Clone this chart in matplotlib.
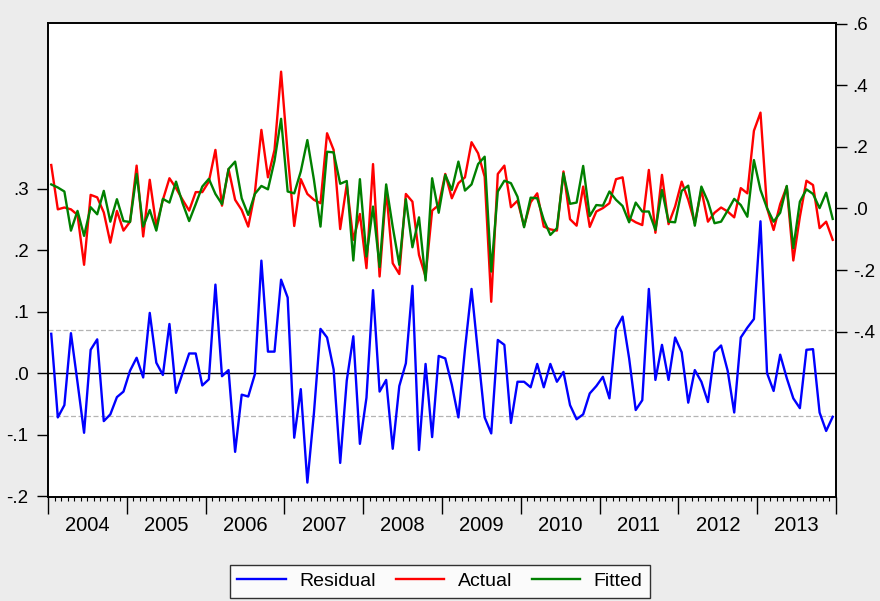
import numpy as np
import matplotlib
matplotlib.use("Agg")
import matplotlib.pyplot as plt
from matplotlib.lines import Line2D

plt.rcParams['font.family'] = ['Liberation Sans', 'DejaVu Sans']

# monthly observations, Jan 2004 - Dec 2013
years = ["2004", "2005", "2006", "2007", "2008", "2009", "2010", "2011", "2012", "2013"]

residual = [
    0.064, -0.072, -0.052, 0.065, -0.015, -0.097, 0.038, 0.055, -0.078, -0.067, -0.039, -0.030,
    0.004, 0.025, -0.007, 0.098, 0.017, -0.003, 0.080, -0.032, 0.000, 0.032, 0.032, -0.020,
    -0.010, 0.144, -0.005, 0.005, -0.128, -0.035, -0.038, -0.002, 0.183, 0.035, 0.035, 0.152,
    0.123, -0.105, -0.026, -0.178, -0.065, 0.072, 0.058, 0.006, -0.146, -0.012, 0.060, -0.115,
    -0.040, 0.135, -0.030, -0.011, -0.123, -0.021, 0.016, 0.142, -0.125, 0.015, -0.104, 0.028,
    0.024, -0.019, -0.072, 0.039, 0.137, 0.031, -0.072, -0.098, 0.054, 0.046, -0.081, -0.014,
    -0.014, -0.023, 0.015, -0.023, 0.015, -0.014, 0.002, -0.052, -0.075, -0.067, -0.033, -0.021,
    -0.006, -0.041, 0.072, 0.092, 0.024, -0.060, -0.044, 0.137, -0.011, 0.046, -0.011, 0.058,
    0.034, -0.048, 0.005, -0.014, -0.047, 0.034, 0.045, 0.004, -0.064, 0.058, 0.074, 0.088,
    0.247, 0.000, -0.029, 0.030, -0.008, -0.041, -0.057, 0.038, 0.039, -0.064, -0.094, -0.071,
]

actual = [
    0.141, -0.003, 0.003, -0.003, -0.021, -0.183, 0.044, 0.036, -0.013, -0.111, -0.008, -0.072,
    -0.043, 0.139, -0.091, 0.093, -0.057, 0.028, 0.098, 0.066, 0.028, -0.007, 0.053, 0.053,
    0.087, 0.190, 0.009, 0.128, 0.028, -0.005, -0.059, 0.049, 0.255, 0.101, 0.190, 0.444,
    0.178, -0.057, 0.095, 0.047, 0.028, 0.017, 0.244, 0.190, -0.067, 0.078, -0.102, -0.018,
    -0.194, 0.144, -0.221, 0.060, -0.178, -0.213, 0.047, 0.022, -0.151, -0.221, -0.007, 0.011,
    0.112, 0.033, 0.082, 0.101, 0.215, 0.179, 0.103, -0.303, 0.112, 0.139, 0.004, 0.025,
    -0.057, 0.020, 0.049, -0.059, -0.068, -0.072, 0.120, -0.035, -0.056, 0.071, -0.060, -0.010,
    0.001, 0.017, 0.095, 0.101, -0.032, -0.045, -0.054, 0.125, -0.079, 0.109, -0.051, 0.006,
    0.087, 0.028, -0.048, 0.060, -0.043, -0.014, 0.003, -0.010, -0.029, 0.066, 0.049, 0.252,
    0.311, 0.001, -0.070, 0.014, 0.071, -0.169, -0.027, 0.090, 0.076, -0.064, -0.043, -0.102,
]

fitted = [
    0.078, 0.068, 0.055, -0.072, -0.008, -0.089, 0.004, -0.019, 0.057, -0.043, 0.030, -0.041,
    -0.044, 0.112, -0.059, -0.005, -0.072, 0.031, 0.019, 0.087, 0.017, -0.041, 0.014, 0.071,
    0.096, 0.047, 0.014, 0.128, 0.152, 0.033, -0.021, 0.047, 0.073, 0.062, 0.155, 0.291,
    0.055, 0.049, 0.120, 0.222, 0.093, -0.059, 0.184, 0.182, 0.080, 0.089, -0.169, 0.095,
    -0.156, 0.006, -0.190, 0.078, -0.060, -0.183, 0.030, -0.126, -0.029, -0.234, 0.098, -0.014,
    0.109, 0.060, 0.152, 0.058, 0.078, 0.144, 0.168, -0.205, 0.055, 0.090, 0.082, 0.038,
    -0.061, 0.035, 0.033, -0.037, -0.086, -0.064, 0.114, 0.015, 0.019, 0.138, -0.025, 0.011,
    0.009, 0.055, 0.028, 0.008, -0.045, 0.019, -0.010, -0.010, -0.070, 0.060, -0.043, -0.045,
    0.057, 0.074, -0.056, 0.071, 0.022, -0.048, -0.043, -0.007, 0.031, 0.011, -0.027, 0.157,
    0.060, 0.001, -0.043, -0.014, 0.073, -0.129, 0.022, 0.062, 0.047, 0.001, 0.051, -0.034,
]

resid_se = 0.0705

left_ticks = [-0.2, -0.1, 0.0, 0.1, 0.2, 0.3]
left_labels = ["-.2", "-.1", ".0", ".1", ".2", ".3"]
right_ticks = [-0.4, -0.2, 0.0, 0.2, 0.4, 0.6]
right_labels = ["-.4", "-.2", ".0", ".2", ".4", ".6"]

bg = "#ececec"
fig = plt.figure(figsize=(8.8, 6.01), dpi=100, facecolor=bg)
ax = fig.add_axes([0.0545, 0.1735, 0.8955, 0.7877])
ax.set_facecolor("white")
ax2 = ax.twinx()

x = np.arange(len(residual))

# residual on left scale
ax.axhline(0, color="black", lw=1.0, zorder=1)
ax.axhline(resid_se, color="#b4b4b4", lw=0.9, ls=(0, (4, 2)), zorder=1)
ax.axhline(-resid_se, color="#b4b4b4", lw=0.9, ls=(0, (4, 2)), zorder=1)
ax.plot(x, residual, color="#0000ff", lw=1.7, zorder=3)

# actual / fitted on right scale
ax2.plot(x, actual, color="#ff0000", lw=1.7)
ax2.plot(x, fitted, color="#008000", lw=1.7)

ax.set_xlim(-0.5, len(x) - 0.5)
ax.set_ylim(-0.201, 0.569)
ax2.set_ylim(-0.936, 0.601)

ax.set_yticks(left_ticks)
ax.set_yticklabels(left_labels, fontsize=13.5)
ax2.set_yticks(right_ticks)
ax2.set_yticklabels(right_labels, fontsize=13.5)

ax.tick_params(axis="y", length=8, width=1, pad=6)
ax2.tick_params(axis="y", length=8, width=1, pad=4)

# year boundaries and monthly minor ticks
ax.set_xticks(np.arange(-0.5, len(x), 12))
ax.set_xticklabels([])
ax.set_xticks(np.arange(-0.5, len(x), 1), minor=True)
ax.tick_params(axis="x", which="major", length=12, width=1)
ax.tick_params(axis="x", which="minor", length=3, width=0.8)
for k, yr in enumerate(years):
    ax.text(12 * k + 5.5, -0.06, yr, transform=ax.get_xaxis_transform(),
            ha="center", va="center", fontsize=14.5)

for a in (ax, ax2):
    for s in a.spines.values():
        s.set_color("black")
        s.set_linewidth(1.2)

handles = [Line2D([], [], color="#0000ff", lw=1.7),
           Line2D([], [], color="#ff0000", lw=1.7),
           Line2D([], [], color="#008000", lw=1.7)]
leg = fig.legend(handles, ["Residual", "Actual", "Fitted"], loc="lower center",
                 bbox_to_anchor=(0.5, 0.005), ncol=3, fontsize=14, frameon=True,
                 fancybox=False, edgecolor="black", handlelength=2.5,
                 handletextpad=0.7, columnspacing=1.0, borderpad=0.4,
                 borderaxespad=0)
leg.get_frame().set_linewidth(1.0)

fig.savefig("out.png", dpi=100, facecolor=bg)
